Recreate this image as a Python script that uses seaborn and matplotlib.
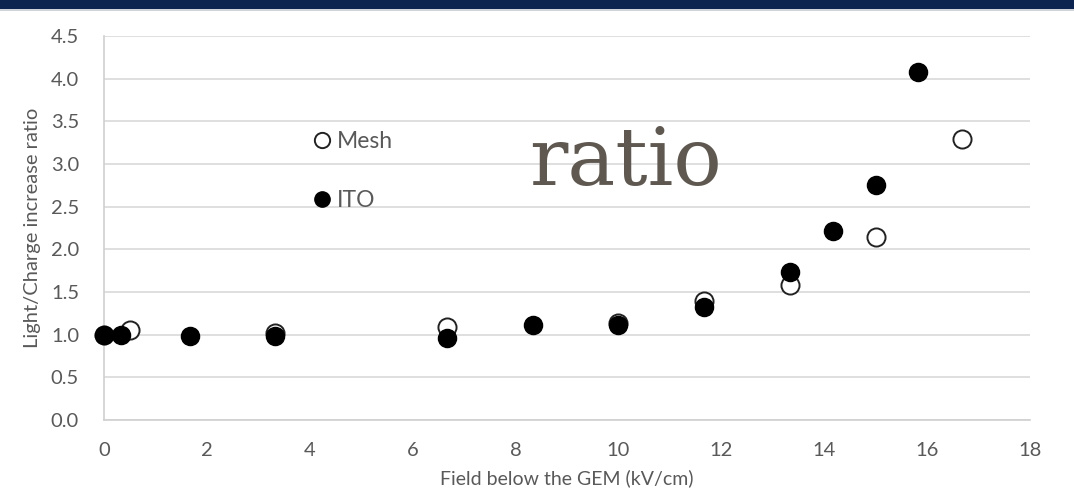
import matplotlib
matplotlib.use("Agg")
import matplotlib.pyplot as plt
import seaborn as sns
import pandas as pd
from matplotlib.patches import Rectangle
from matplotlib.lines import Line2D

mesh_field = [0.0, 0.5, 3.33, 6.67, 10.0, 11.67, 13.33, 15.0, 16.67]
mesh_ratio = [1.0, 1.05, 1.02, 1.09, 1.14, 1.40, 1.58, 2.14, 3.29]
ito_field = [0.0, 0.33, 1.67, 3.33, 6.67, 8.33, 10.0, 11.67, 13.33, 14.17, 15.0, 15.83]
ito_ratio = [1.0, 1.0, 0.98, 0.98, 0.96, 1.11, 1.11, 1.32, 1.73, 2.21, 2.75, 4.08]
y_ticks = [0.0, 0.5, 1.0, 1.5, 2.0, 2.5, 3.0, 3.5, 4.0, 4.5]
x_ticks = [0, 2, 4, 6, 8, 10, 12, 14, 16, 18]

sns.set_theme(style="white")
plt.rcParams['font.family'] = ['Lato', 'DejaVu Sans']

fig = plt.figure(figsize=(10.74, 5.01), dpi=100)
ax = fig.add_axes([104/1074, 1-420/501, (1030-104)/1074, (420-36)/501])

# top banner
fig.patches.append(Rectangle((0, 1-9/501), 1, 9/501, transform=fig.transFigure,
                             facecolor="#0b2550", edgecolor="none", zorder=0))
fig.patches.append(Rectangle((0, 1-11/501), 1, 2/501, transform=fig.transFigure,
                             facecolor="#d0d4da", edgecolor="none", zorder=0))

df_mesh = pd.DataFrame({"x": mesh_field, "y": mesh_ratio})
df_ito = pd.DataFrame({"x": ito_field, "y": ito_ratio})

sns.scatterplot(data=df_mesh, x="x", y="y", ax=ax, s=170, facecolor="white",
                edgecolor="#222222", linewidth=1.4, zorder=3, clip_on=False)
sns.scatterplot(data=df_ito, x="x", y="y", ax=ax, s=170, color="black",
                edgecolor="black", linewidth=1.0, zorder=4, clip_on=False)

ax.set_xlim(0, 18)
ax.set_ylim(0, 4.5)
ax.set_yticks(y_ticks)
ax.set_yticklabels([f"{v:.1f}" for v in y_ticks])
ax.set_xticks(x_ticks)
ax.grid(axis="y", color="#d9d9d9", linewidth=1.2)
ax.set_axisbelow(True)
for side in ["top", "right"]:
    ax.spines[side].set_visible(False)
for side in ["left", "bottom"]:
    ax.spines[side].set_color("#d0d0d0")
    ax.spines[side].set_linewidth(1.2)
ax.tick_params(axis="both", length=0, labelsize=14.5, colors="#595959")
ax.tick_params(axis="x", pad=16)
ax.tick_params(axis="y", pad=18)

ax.set_xlabel("Field below the GEM (kV/cm)", fontsize=14, color="#595959", labelpad=7)
ax.set_ylabel("Light/Charge increase ratio", fontsize=14.5, color="#595959", labelpad=7)

handles = [Line2D([], [], marker="o", linestyle="none", markersize=11,
                  markerfacecolor="white", markeredgecolor="#222222", markeredgewidth=1.4),
           Line2D([], [], marker="o", linestyle="none", markersize=11,
                  markerfacecolor="black", markeredgecolor="black")]
leg = ax.legend(handles, ["Mesh", "ITO"], loc="upper left",
                bbox_to_anchor=(292/1074, 1-115/501), bbox_transform=fig.transFigure,
                frameon=False, fontsize=16.5, labelspacing=1.65, handletextpad=0.05,
                handlelength=1.2, borderpad=0.2)
for t in leg.get_texts():
    t.set_color("#595959")

fig.text(626/1074, 1-163/501, "ratio", fontsize=58, family="DejaVu Serif",
         color="#5e5850", ha="center", va="center")

fig.savefig("out.png", dpi=100)
